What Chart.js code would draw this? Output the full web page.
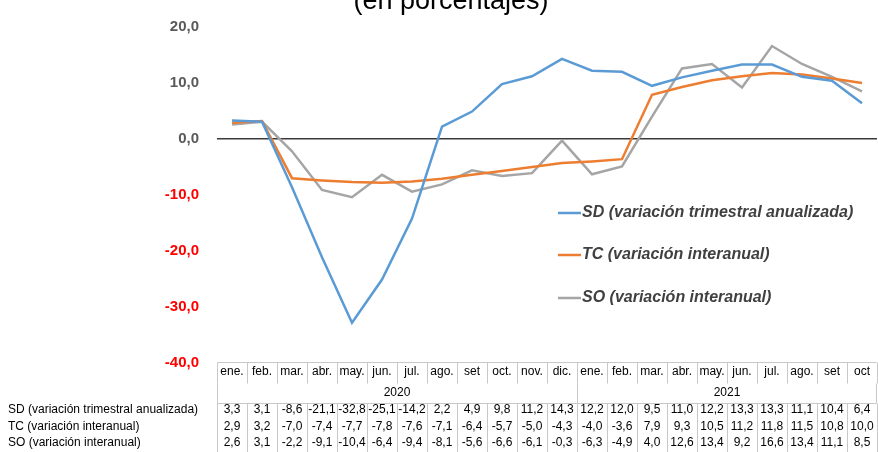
<!DOCTYPE html>
<html>
<head>
<meta charset="utf-8">
<script src="https://cdn.jsdelivr.net/npm/chart.js@4/dist/chart.umd.min.js"></script>
<style>
  body { margin: 0; background: #fff; }
  canvas { display: block; }
</style>
</head>
<body>
<canvas id="grafico" width="878" height="452"></canvas>
<script>
// Datos
const meses = ['ene.', 'feb.', 'mar.', 'abr.', 'may.', 'jun.', 'jul.', 'ago.', 'set', 'oct.', 'nov.', 'dic.',
               'ene.', 'feb.', 'mar.', 'abr.', 'may.', 'jun.', 'jul.', 'ago.', 'set', 'oct'];
const anios = [{ label: '2020', n: 12 }, { label: '2021', n: 10 }];
const sd = [3.3, 3.1, -8.6, -21.1, -32.8, -25.1, -14.2, 2.2, 4.9, 9.8, 11.2, 14.3, 12.2, 12.0, 9.5, 11.0, 12.2, 13.3, 13.3, 11.1, 10.4, 6.4];
const tc = [2.9, 3.2, -7.0, -7.4, -7.7, -7.8, -7.6, -7.1, -6.4, -5.7, -5.0, -4.3, -4.0, -3.6, 7.9, 9.3, 10.5, 11.2, 11.8, 11.5, 10.8, 10.0];
const so = [2.6, 3.1, -2.2, -9.1, -10.4, -6.4, -9.4, -8.1, -5.6, -6.6, -6.1, -0.3, -6.3, -4.9, 4.0, 12.6, 13.4, 9.2, 16.6, 13.4, 11.1, 8.5];
const nombres = ['SD (variación trimestral anualizada)', 'TC (variación interanual)', 'SO (variación interanual)'];
const colores = ['#5B9BD5', '#ED7D31', '#A5A5A5'];

const fmt = v => v.toFixed(1).replace('.', ',');
const FONT = 'Arial, "Liberation Sans", sans-serif';

// titulo cortado arriba
const titulo = {
  id: 'titulo',
  afterDraw(chart) {
    const c = chart.ctx;
    c.save();
    c.font = '27px ' + FONT;
    c.fillStyle = '#000';
    c.textAlign = 'center';
    c.textBaseline = 'alphabetic';
    c.fillText('(en porcentajes)', 451, 9);
    c.restore();
  }
};

// leyenda dentro del grafico
const leyenda = {
  id: 'leyenda',
  afterDraw(chart) {
    const c = chart.ctx;
    const ys = [213, 255, 298];
    c.save();
    c.font = 'italic bold 16px ' + FONT;
    c.textBaseline = 'middle';
    c.textAlign = 'left';
    chart.data.datasets.forEach((ds, i) => {
      c.strokeStyle = ds.borderColor;
      c.lineWidth = 2.5;
      c.beginPath();
      c.moveTo(558, ys[i]);
      c.lineTo(581, ys[i]);
      c.stroke();
      c.fillStyle = '#404040';
      c.fillText(ds.label, 582, ys[i]);
    });
    c.restore();
  }
};

// tabla de datos debajo
const tabla = {
  id: 'tabla',
  afterDraw(chart) {
    const c = chart.ctx;
    const x = chart.scales.x;
    const w = x.width / meses.length;
    const left = Math.round(x.left) + 0.5;
    const right = Math.round(x.right) - 0.5;
    const top = 362.5, mid = 383.5, sep = 403.5, bottom = 452;

    c.save();
    c.strokeStyle = '#c8c8c8';
    c.lineWidth = 1;
    c.beginPath();
    c.moveTo(left, top); c.lineTo(right, top);
    c.moveTo(left, sep); c.lineTo(right, sep);
    for (let i = 0; i <= meses.length; i++) {
      const xx = Math.round(x.left + i * w) + 0.5;
      c.moveTo(xx, top); c.lineTo(xx, mid);
      c.moveTo(xx, sep); c.lineTo(xx, bottom);
    }
    let k = 0;
    anios.forEach(a => {
      const xx = Math.round(x.left + k * w) + 0.5;
      c.moveTo(xx, mid); c.lineTo(xx, sep);
      k += a.n;
    });
    c.moveTo(right, mid); c.lineTo(right, sep);
    c.stroke();

    c.fillStyle = '#000';
    c.font = '12px ' + FONT;
    c.textBaseline = 'middle';
    c.textAlign = 'center';
    meses.forEach((m, i) => c.fillText(m, x.getPixelForValue(i), 372));
    k = 0;
    anios.forEach(a => {
      c.fillText(a.label, x.left + (k + a.n / 2) * w, 393);
      k += a.n;
    });
    const filas = [sd, tc, so];
    const yFilas = [410, 427, 443];
    filas.forEach((serie, r) => {
      c.textAlign = 'left';
      c.fillText(nombres[r], 8, yFilas[r]);
      c.textAlign = 'center';
      serie.forEach((v, i) => c.fillText(fmt(v), x.getPixelForValue(i), yFilas[r]));
    });
    c.restore();
  }
};

const ctx = document.getElementById('grafico').getContext('2d');
new Chart(ctx, {
  type: 'line',
  data: {
    labels: meses,
    datasets: [
      { label: nombres[0], data: sd, borderColor: colores[0] },
      { label: nombres[1], data: tc, borderColor: colores[1] },
      { label: nombres[2], data: so, borderColor: colores[2] }
    ]
  },
  options: {
    responsive: false,
    animation: false,
    layout: { padding: { top: 24, bottom: 89, left: 0, right: 1 } },
    elements: {
      line: { borderWidth: 2.5, tension: 0, fill: false },
      point: { radius: 0 }
    },
    plugins: {
      legend: { display: false },
      title: { display: false },
      tooltip: { enabled: false }
    },
    scales: {
      x: {
        display: false,
        offset: true
      },
      y: {
        min: -40,
        max: 20,
        afterFit(scale) { scale.width = 217; },
        border: { display: false },
        grid: {
          drawTicks: false,
          lineWidth: 1.5,
          color: c => (c.tick && c.tick.value === 0) ? '#3a3a3a' : 'transparent'
        },
        ticks: {
          stepSize: 10,
          padding: 18,
          font: { family: FONT, size: 15, weight: 'bold' },
          color: c => c.tick.value < 0 ? '#ff0000' : '#595959',
          callback: v => fmt(v)
        }
      }
    }
  },
  plugins: [titulo, leyenda, tabla]
});
</script>
</body>
</html>
